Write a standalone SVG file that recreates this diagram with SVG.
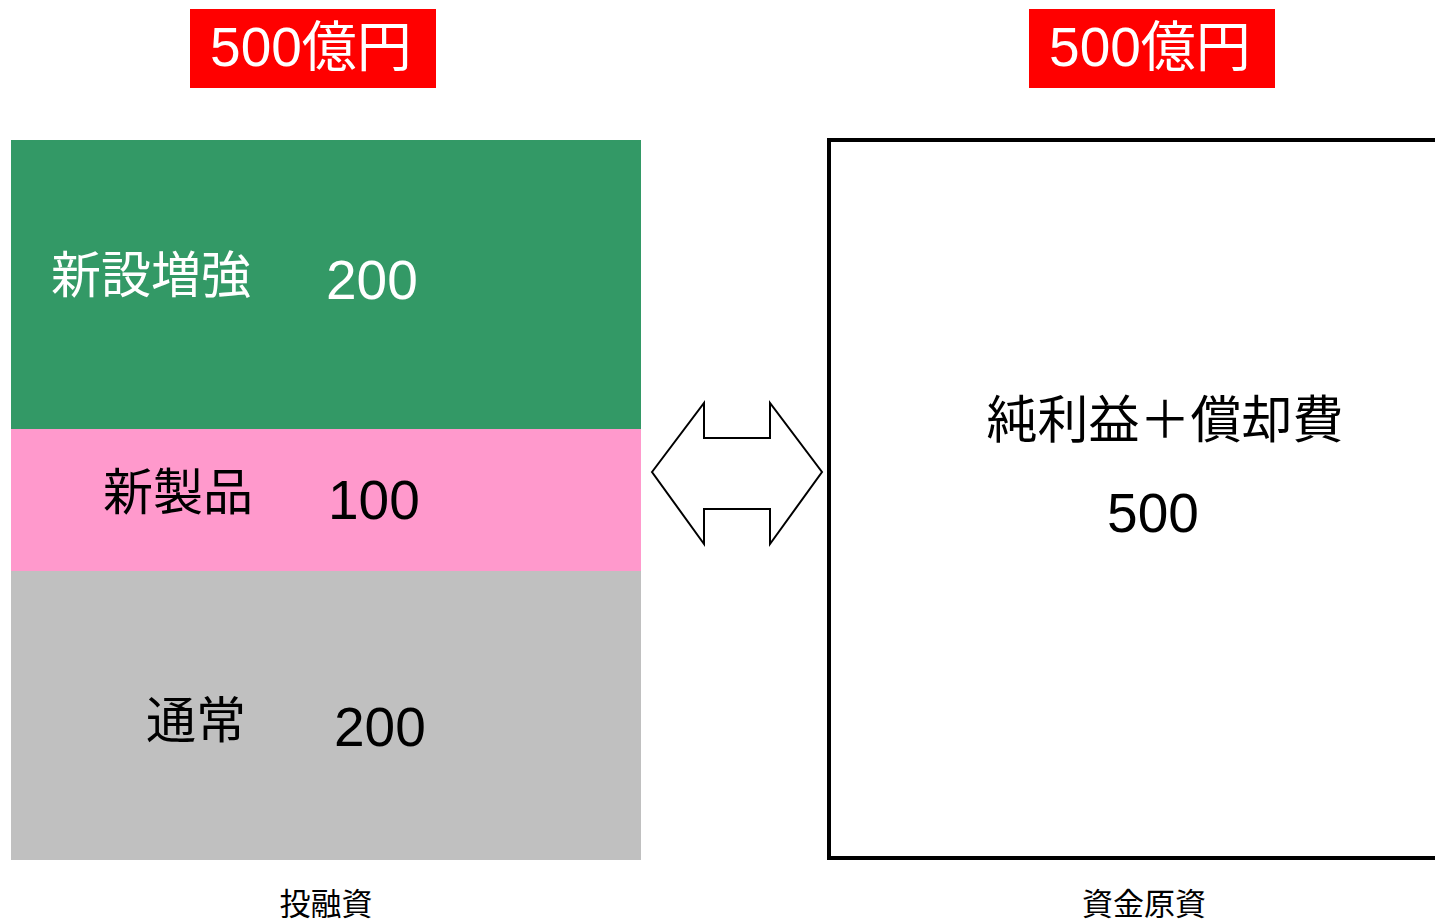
<svg xmlns="http://www.w3.org/2000/svg" width="1435" height="921" viewBox="0 0 1435 921">
<style>
.t{font-family:"Liberation Sans","Noto Sans CJK JP",sans-serif}
.w{fill:#fff}
.k{fill:#000}
</style>
<rect width="1435" height="921" fill="#fff"/>
<g id="title-left">
<rect x="190" y="9" width="246" height="79" fill="#ff0000"/>
<text class="t w" x="311" y="66" font-size="55" text-anchor="middle">500億円</text>
</g>
<g id="title-right">
<rect x="1029" y="9" width="246" height="79" fill="#ff0000"/>
<text class="t w" x="1150" y="66" font-size="55" text-anchor="middle">500億円</text>
</g>
<g id="node-new">
<rect x="11" y="140" width="630" height="289" fill="#339966"/>
<text class="t w" x="51" y="293" font-size="50">新設増強</text>
<text class="t w" x="326" y="299" font-size="55">200</text>
</g>
<g id="node-product">
<rect x="11" y="429" width="630" height="142" fill="#ff99cc"/>
<text class="t k" x="103" y="510" font-size="50">新製品</text>
<text class="t k" x="328" y="519" font-size="55">100</text>
</g>
<g id="node-normal">
<rect x="11" y="571" width="630" height="289" fill="#c0c0c0"/>
<text class="t k" x="146" y="738" font-size="50">通常</text>
<text class="t k" x="334" y="746" font-size="55">200</text>
</g>
<g id="node-source">
<path d="M1437 140 H829 V858 H1437" fill="none" stroke="#000" stroke-width="4"/>
<text class="t k" x="1165" y="438" font-size="51" text-anchor="middle">純利益＋償却費</text>
<text class="t k" x="1153" y="532" font-size="55" text-anchor="middle">500</text>
</g>
<g id="connectors">
<polygon points="652,472 704,403 704,438 770,438 770,403 822,472 770,544 770,509 704,509 704,544" fill="#fff" stroke="#000" stroke-width="2"/>
</g>
<g id="labels">
<text class="t k" x="326" y="915" font-size="31" text-anchor="middle">投融資</text>
<text class="t k" x="1144" y="915" font-size="31" text-anchor="middle">資金原資</text>
</g>
</svg>
